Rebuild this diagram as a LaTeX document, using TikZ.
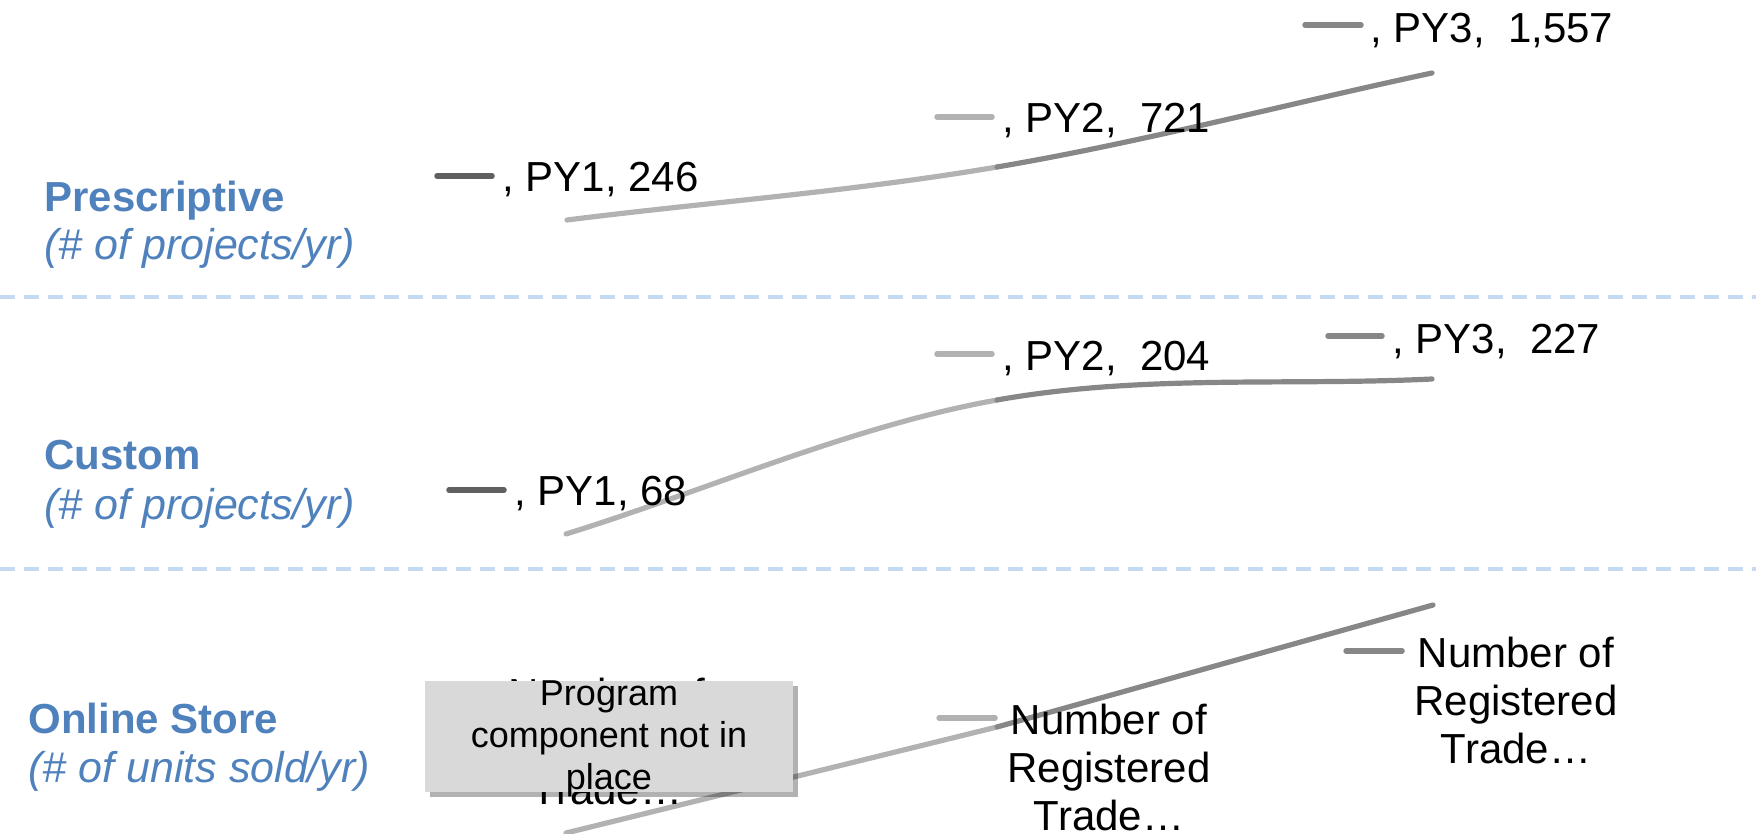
\documentclass[tikz,border=0pt]{standalone}
\usepackage{fontspec}
\setmainfont{Liberation Sans}
\usetikzlibrary{positioning,shadows}
\definecolor{catblue}{HTML}{4F81BD}
\definecolor{sepblue}{HTML}{C6D9F1}
\definecolor{pyone}{HTML}{606060}
\definecolor{pytwo}{HTML}{B2B2B2}
\definecolor{pythree}{HTML}{878787}
\definecolor{nafill}{HTML}{D9D9D9}

\begin{document}
\begin{tikzpicture}[
  x=0.5pt,y=-0.5pt,
  cat/.style={anchor=base west,inner sep=0pt,text=catblue,font=\fontsize{21pt}{24pt}\selectfont\bfseries},
  unit/.style={anchor=base west,inner sep=0pt,text=catblue,font=\fontsize{21.5pt}{24pt}\selectfont\itshape},
  val/.style={anchor=base west,inner sep=0pt,font=\fontsize{21pt}{24pt}\selectfont},
  multi/.style={anchor=north,inner sep=0pt,align=center,font=\fontsize{21pt}{24pt}\selectfont},
  keyln/.style={line width=2.75pt,line cap=round,draw=#1},
  ser/.style={line width=2.6pt,line cap=round,draw=#1},
  sep/.style={line width=1.6pt,draw=sepblue,dash pattern=on 7.5pt off 4.5pt},
  nabox/.style={fill=nafill,minimum width=184pt,minimum height=55.5pt,inner sep=0pt,
    drop shadow={shadow xshift=2.5pt,shadow yshift=-2.5pt,fill=black,opacity=0.3}},
  natext/.style={anchor=north,inner sep=0pt,align=center,font=\fontsize{18pt}{21pt}\selectfont}
]
\useasboundingbox (0,0) rectangle (1756,834);

% row separators
\coordinate (s1l) at (0,297);   \coordinate (s1r) at (1756,297);
\coordinate (s2l) at (0,569);   \coordinate (s2r) at (1756,569);
\draw[sep] (s1l) -- (s1r);
\draw[sep] (s2l) -- (s2r);

% category labels
\node[cat] (pre) at (44,212) {Prescriptive};
\node[unit] (preu) at ([yshift=-24pt]pre.base west) {(\# of projects/yr)};
\node[cat] (cus) at (44,469) {Custom};
\node[unit] (cusu) at ([yshift=-25pt]cus.base west) {(\# of projects/yr)};
\node[cat] (onl) at (28,733) {Online Store};
\node[unit] (onlu) at ([yshift=-24.5pt]onl.base west) {(\# of units sold/yr)};

% data points
\coordinate (p1) at (567,220);  \coordinate (p2) at (997,167);  \coordinate (p3) at (1432,73);
\coordinate (c1) at (566,534);  \coordinate (c2) at (997,400);  \coordinate (c3) at (1432,379);
\coordinate (o1) at (566,833);  \coordinate (o2) at (997,727);  \coordinate (o3) at (1433,605);

% series lines
\draw[ser=pytwo] (p1) .. controls (710,202) and (853,191.5) .. (p2);
\draw[ser=pythree] (p2) .. controls (1141,142.5) and (1287,104) .. (p3);
\draw[ser=pytwo] (c1) .. controls (709.7,489.3) and (852.7,425.8) .. (c2);
\draw[ser=pythree] (c2) .. controls (1141.3,374.2) and (1287,386) .. (c3);
\draw[ser=pytwo] (o1) -- (o2);
\draw[ser=pythree] (o2) -- (o3);

% data labels
\node[val] (v11) at (502,192) {, PY1, 246};
\node[val] (v12) at (1002,133) {, PY2,\ \ 721};
\node[val] (v13) at (1370,43) {, PY3,\ \ 1,557};
\node[val] (v21) at (514,505) {, PY1, 68};
\node[val] (v22) at (1002,371) {, PY2,\ \ 204};
\node[val] (v23) at (1392,353) {, PY3,\ \ 227};
\draw[keyln=pyone] ([xshift=-32.5pt,yshift=8pt]v11.base west) -- ([xshift=-5pt,yshift=8pt]v11.base west);
\draw[keyln=pytwo] ([xshift=-32.5pt,yshift=8pt]v12.base west) -- ([xshift=-5pt,yshift=8pt]v12.base west);
\draw[keyln=pythree] ([xshift=-32.5pt,yshift=9pt]v13.base west) -- ([xshift=-4.5pt,yshift=9pt]v13.base west);
\draw[keyln=pyone] ([xshift=-32.5pt,yshift=7.5pt]v21.base west) -- ([xshift=-5pt,yshift=7.5pt]v21.base west);
\draw[keyln=pytwo] ([xshift=-32.5pt,yshift=8.5pt]v22.base west) -- ([xshift=-5pt,yshift=8.5pt]v22.base west);
\draw[keyln=pythree] ([xshift=-32pt,yshift=8.5pt]v23.base west) -- ([xshift=-5pt,yshift=8.5pt]v23.base west);

\node[multi] (v31) at (607,678) {Number of\\Registered\\Trade…};
\node[multi] (v32) at (1109,704) {Number of\\Registered\\Trade…};
\node[multi] (v33) at (1516,637) {Number of\\Registered\\Trade…};
\draw[keyln=pytwo] ([xshift=-34pt,yshift=-7pt]v32.north west) -- ([xshift=-6pt,yshift=-7pt]v32.north west);
\draw[keyln=pythree] ([xshift=-34pt,yshift=-7pt]v33.north west) -- ([xshift=-6pt,yshift=-7pt]v33.north west);

% placeholder box
\node[nabox] (na) at (609,736.5) {};
\node[natext] (natxt) at (na.north) {Program\\component not in\\place};
\end{tikzpicture}
\end{document}
